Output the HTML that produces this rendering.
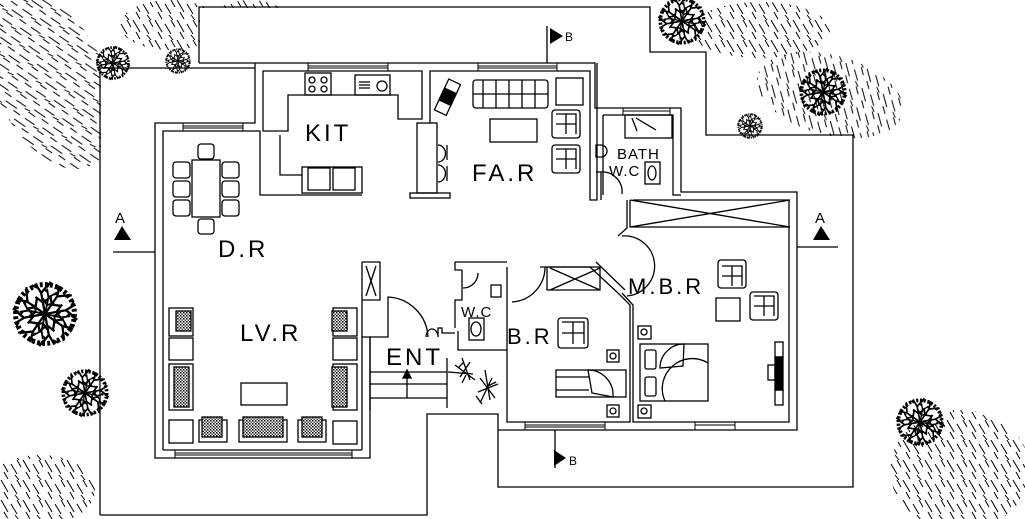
<!DOCTYPE html>
<html><head><meta charset="utf-8"><style>
html,body{margin:0;padding:0;background:#fff;width:1025px;height:519px;overflow:hidden}
svg{display:block}
text{font-family:"Liberation Sans",sans-serif;fill:#000}
</style></head><body>
<svg width="1025" height="519" viewBox="0 0 1025 519" xmlns="http://www.w3.org/2000/svg">
<defs>
<pattern id="grass" width="22" height="20" patternUnits="userSpaceOnUse">
<path d="M1 0 L8 12 M11 4 L17 14 M4 12 L8 19 M15 15 L19 20 M17 0 L21 7" stroke="#000" stroke-width="1"/>
</pattern>
<pattern id="dots" width="3" height="3" patternUnits="userSpaceOnUse">
<rect width="3" height="3" fill="#fff"/><rect width="1.5" height="1.5" fill="#000"/><rect x="1.5" y="1.5" width="1.5" height="1.5" fill="#444"/>
</pattern>
<g id="br" stroke="#000" stroke-width="1.2" fill="none">
<path d="M0 0 L-2 -11 M-2 -11 L-5 -16 M-2 -11 L2 -16 M-1 -6 L-5 -9 M-1 -6 L3 -9 M-4 -14 L-7 -15 M1 -14 L3 -17"/>
</g>
<g id="tree">
<use href="#br"/><use href="#br" transform="rotate(45)"/><use href="#br" transform="rotate(90)"/><use href="#br" transform="rotate(135)"/>
<use href="#br" transform="rotate(180)"/><use href="#br" transform="rotate(225)"/><use href="#br" transform="rotate(270)"/><use href="#br" transform="rotate(315)"/>
<use href="#br" transform="rotate(22) scale(0.8)"/><use href="#br" transform="rotate(112) scale(0.8)"/><use href="#br" transform="rotate(202) scale(0.8)"/><use href="#br" transform="rotate(292) scale(0.8)"/>
<circle r="15.5" stroke="#000" stroke-width="2.6" stroke-dasharray="1.5 1.2" fill="none"/>
</g>
</defs>

<!-- grass areas -->
<g fill="url(#grass)">
<ellipse cx="50" cy="80" rx="55" ry="95" transform="rotate(-25 50 80)"/>
<ellipse cx="170" cy="25" rx="50" ry="25"/>
<ellipse cx="250" cy="30" rx="45" ry="30"/>
<ellipse cx="760" cy="30" rx="70" ry="28"/>
<ellipse cx="830" cy="95" rx="75" ry="40" transform="rotate(15 830 95)"/>
<ellipse cx="960" cy="470" rx="70" ry="60"/>
<ellipse cx="40" cy="490" rx="55" ry="35"/>
</g>
<g fill="#fff">
<rect x="101" y="69" width="155" height="445"/>
<rect x="200" y="8" width="450" height="55"/>
<rect x="651" y="64" width="55" height="71"/>
<rect x="707" y="136" width="146" height="350"/>
</g>

<g stroke="#000" stroke-width="1.3" fill="none">
<path d="M100 515 L100 68 L255 68"/>
<path d="M199 63 L199 7 L650 7 L650 52 L706 52 L706 135 L853 135 L853 487 L498 487 L498 414 L427 414 L427 515 L100 515"/>
<path d="M199 63 L595 63 L595 108 L681 108 L681 192 L797 192 L797 430 L498 430"/>
<path d="M255 63 L255 123 L155 123 L155 458 L370 458 L370 337 L362 337"/>
<path d="M163 450 L163 131 L260 131 L260 195 L362 195"/>
<path d="M362 450 L163 450 M362 262 L362 450"/>
<path d="M362 262 L380 262 L380 300 L362 300 M366 266 L376 296 M376 266 L366 296"/>
<path d="M263 131 L263 71 L422 71 L422 119 L398 119 L398 95 L288 95 L288 131 Z"/>
<path d="M280 135 L280 175 L302 175"/>
<rect x="302" y="167" width="60" height="26"/><rect x="308" y="168" width="22" height="22"/><rect x="333" y="168" width="22" height="22"/>
<rect x="305" y="73" width="26" height="22"/><circle cx="312" cy="80" r="3"/><circle cx="324" cy="80" r="3"/><circle cx="312" cy="89" r="3"/><circle cx="324" cy="89" r="3"/>
<rect x="355" y="75" width="35" height="20"/><circle cx="382" cy="86" r="5"/><path d="M359 82h11M359 85h11M359 88h11"/>
<path d="M430 123 L430 71 L590 71 L590 200 L597 200 L597 63"/>
<rect x="417" y="123" width="20" height="70"/><rect x="410" y="193" width="40" height="5"/>
<path d="M438 145 a7 8 0 0 1 0 17 M438 165 a7 8 0 0 1 0 17 M447 145 v15 M447 166 v15"/>
<rect x="473" y="80" width="75" height="28" rx="3"/><path d="M483 80v28M496 80v28M509 80v28M522 80v28M535 80v28M473 94h75"/>
<rect x="556" y="78" width="27" height="27"/>
<rect x="490" y="119" width="47" height="23"/>
<rect x="552" y="110" width="28" height="28" rx="3"/><path d="M556 114h20v20M556 124h20M566 114v20"/>
<rect x="552" y="145" width="28" height="28" rx="3"/><path d="M556 149h20v20M556 159h20M566 149v20"/>
<g transform="rotate(25 447 97)"><rect x="441" y="80" width="13" height="34"/><rect x="441" y="90" width="13" height="13" fill="#000"/></g>
<g stroke-width="1"><path d="M308 63h80v8h-80zM308 66h80M308 68h80"/><path d="M478 63h79v8h-79zM478 66h79M478 68h79"/><path d="M183 123h60v8h-60zM183 126h60M183 128h60"/><path d="M623 108h47v7h-47zM623 111h47"/><path d="M175 450h177v8h-177zM175 453h177M175 455h177"/><path d="M525 422h80v8h-80zM525 425h80M525 427h80"/><path d="M695 422h40v8h-40zM695 425h40"/></g>
<path d="M603 115 L603 195 M603 115 L673 115 L673 195 L681 195"/>
<rect x="625" y="115" width="47" height="23"/><path d="M632 118 L637 131 M636 118 L656 130"/>
<path d="M596 145 h5 a5 5 0 0 1 0 12 h-5 z"/>
<rect x="645" y="162" width="15" height="22"/><ellipse cx="652" cy="173" rx="4" ry="7"/>
<path d="M600 172 a20 20 0 0 1 22 22 M596 172 h5 v28"/>
<path d="M633 200 L789 200 L789 422 L633 422 L633 305 L622 293"/>
<path d="M630 200 v27 h160 M630 200 L790 227 M630 227 L790 200"/>
<path d="M627 200 L627 228 L618 236"/>
<path d="M622 236 a30 30 0 0 1 5 60"/>
<rect x="718" y="260" width="28" height="28" rx="3"/><path d="M722 266h20v20M722 276h20M732 266v20"/>
<rect x="716" y="298" width="24" height="23"/>
<rect x="750" y="292" width="28" height="28" rx="3"/><path d="M754 296h20v20M754 306h20M764 296v20"/>
<rect x="638" y="326" width="13" height="13"/><circle cx="644" cy="332" r="3"/>
<rect x="638" y="405" width="13" height="13"/><circle cx="644" cy="411" r="3"/>
<rect x="640" y="344" width="68" height="57"/><rect x="645" y="350" width="11" height="19" rx="2"/><rect x="645" y="377" width="11" height="19" rx="2"/>
<path d="M660 368 a24 24 0 0 1 24 -24 L683 366 Z M665 401 a30 30 0 0 1 43 -38"/>
<rect x="775" y="342" width="8" height="15"/><rect x="775" y="390" width="8" height="15"/><rect x="775" y="357" width="8" height="33" fill="#000"/><rect x="768" y="365" width="7" height="15"/>
<path d="M507 267 L507 422 L630 422 L630 305 L618 293"/>
<path d="M547 267 L547 290 L600 290 L600 267 Z M550 268 L600 290 M550 290 L600 268"/>
<path d="M540 267 L590 267 L618 293"/><path d="M596 262 L625 290"/>
<path d="M512 302 a35 35 0 0 0 33 -35"/>
<rect x="558" y="318" width="30" height="30" rx="3"/><path d="M562 322h22v22M562 333h22M573 322v22"/>
<rect x="607" y="350" width="12" height="12"/><circle cx="613" cy="356" r="3"/>
<rect x="607" y="405" width="12" height="12"/><circle cx="613" cy="411" r="3"/>
<rect x="556" y="370" width="70" height="27"/><path d="M588 370 a25 25 0 0 1 25 27 L592 393 Z M556 377h33M556 390h33"/>
<path d="M455 262 L507 262 M455 262 L455 270 L462 270 M462 270 L462 300 L455 300 L455 328 M458 331 L458 350 L507 350"/>
<path d="M478 273 a15 15 0 0 1 -15 15"/>
<rect x="491" y="285" width="10" height="12"/>
<rect x="469" y="318" width="15" height="22"/><ellipse cx="476" cy="329" rx="5" ry="7"/>
<path d="M370 337 L388 337 L388 297 a42 42 0 0 1 40 40 M370 337 L370 410"/>
<path d="M426 337 a6 8 0 0 1 12 0 L438 328 L442 328 L442 333 L455 333"/>
<path d="M370 372 h77 M370 384 h77 M370 398 h77 M447 358 v50"/>
<path d="M407 372 v26"/><path d="M403 378 L407 370 L411 378 Z" fill="#000"/>
<rect x="192" y="160" width="28" height="57"/>
<rect x="198" y="144" width="16" height="15" rx="3"/><rect x="198" y="219" width="16" height="15" rx="3"/>
<rect x="173" y="162" width="17" height="16" rx="3"/><rect x="173" y="181" width="17" height="16" rx="3"/><rect x="173" y="200" width="17" height="16" rx="3"/>
<rect x="222" y="162" width="17" height="16" rx="3"/><rect x="222" y="181" width="17" height="16" rx="3"/><rect x="222" y="200" width="17" height="16" rx="3"/>
<rect x="169" y="308" width="24" height="28"/><rect x="176" y="311" width="15" height="20" fill="url(#dots)"/>
<rect x="169" y="338" width="24" height="22"/>
<rect x="169" y="364" width="24" height="46"/><rect x="174" y="367" width="15" height="40" fill="url(#dots)"/>
<rect x="169" y="420" width="24" height="23"/>
<rect x="333" y="308" width="24" height="28"/><rect x="332" y="311" width="15" height="20" fill="url(#dots)"/>
<rect x="333" y="338" width="24" height="22"/>
<rect x="333" y="364" width="24" height="46"/><rect x="332" y="367" width="15" height="40" fill="url(#dots)"/>
<rect x="333" y="421" width="24" height="23"/>
<rect x="199" y="420" width="28" height="22"/><rect x="202" y="417" width="20" height="20" fill="url(#dots)"/>
<rect x="239" y="420" width="48" height="22"/><rect x="243" y="417" width="40" height="20" fill="url(#dots)"/>
<rect x="298" y="420" width="28" height="22"/><rect x="302" y="417" width="20" height="20" fill="url(#dots)"/>
<rect x="241" y="383" width="46" height="22"/>
<path d="M113 252 H155 M797 247 H838 M547 26 V63 M555 430 V468"/>
</g>
<g fill="#000">
<path d="M114 240 L131 240 L122 226 Z"/><path d="M813 240 L830 240 L821 226 Z"/>
<path d="M550 28 L563 36 L550 44 Z"/><path d="M554 450 L566 458 L554 466 Z"/>
</g>
<g stroke="#000" stroke-width="1.3">
<path d="M455 365 l20 15 M462 358 l8 22 M448 372 l25 2 M470 362 l-10 15 M480 378 l15 20 M485 370 l5 30 M478 392 l20 -8 M492 378 l-12 25 M458 368 l6 -6 M466 375 l-4 8 M488 386 l8 -4 M476 396 l6 8" />
</g>
<use href="#tree" transform="translate(45,314) scale(1.9)"/>
<use href="#tree" transform="translate(85,393) scale(1.4)"/>
<use href="#tree" transform="translate(113,63) scale(1.0)"/>
<use href="#tree" transform="translate(178,61) scale(0.75)"/>
<use href="#tree" transform="translate(682,21) scale(1.4)"/>
<use href="#tree" transform="translate(823,92) scale(1.4)"/>
<use href="#tree" transform="translate(750,126) scale(0.75)"/>
<use href="#tree" transform="translate(920,422) scale(1.4)"/>
<g font-size="24" letter-spacing="3" font-weight="300">
<text x="305" y="141">KIT</text>
<text x="472" y="181">FA.R</text>
<text x="218" y="257">D.R</text>
<text x="240" y="341">LV.R</text>
<text x="386" y="365">ENT</text>
<text x="628" y="294" font-size="22">M.B.R</text>
<text x="507" y="344" font-size="22">B.R</text>
</g>
<g font-size="15" letter-spacing="1">
<text x="617" y="159">BATH</text>
<text x="609" y="176">W.C</text>
<text x="461" y="317">W.C</text>
<text x="115" y="223">A</text><text x="815" y="223">A</text>
<text x="565" y="41" font-size="12">B</text><text x="569" y="465" font-size="12">B</text>
</g>
</svg>
</body></html>
